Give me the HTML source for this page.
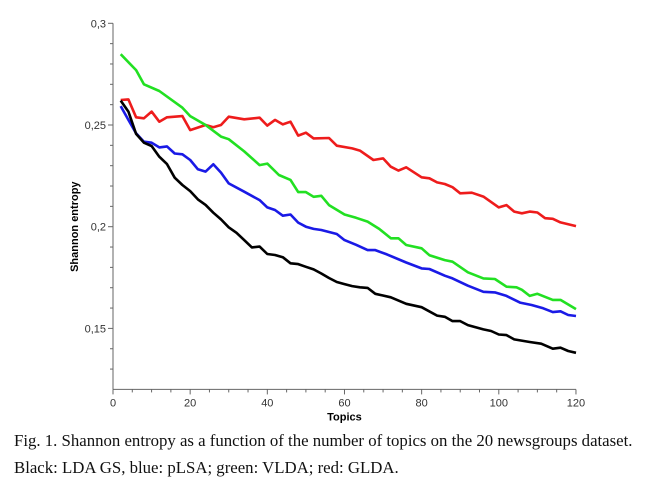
<!DOCTYPE html>
<html><head><meta charset="utf-8"><style>
html,body{margin:0;padding:0;background:#fff;width:655px;height:499px;overflow:hidden}
.cap{position:absolute;left:14px;font-family:"Liberation Serif",serif;font-size:16.8px;color:#111;white-space:nowrap}
</style></head><body>
<svg id="chart" width="655" height="430" style="position:absolute;left:0;top:0" xmlns="http://www.w3.org/2000/svg"></svg>
<div class="cap" style="top:431px">Fig. 1. Shannon entropy as a function of the number of topics on the 20 newsgroups dataset.</div>
<div class="cap" style="top:458px">Black: LDA GS, blue: pLSA; green: VLDA; red: GLDA.</div>
<script>
const xTicks=[0,20,40,60,80,100,120];
const yTicks=[0.15,0.2,0.25,0.3];
const yTickLabels=["0,15","0,2","0,25","0,3"];
const blackX=[2,4,6,8,10,12,14,16,18,20,22,24,26,28,30,32,34,36,38,40,42,44,46,48,50,52,54,56,58,60,62,64,66,68,72,76,80,84,86,88,90,92,96,98,100,102,104,108,111,114,116,118,120];
const blackY=[0.262,0.2566,0.2456,0.2413,0.2397,0.2344,0.2308,0.2241,0.2205,0.2175,0.2134,0.2107,0.2069,0.2036,0.1997,0.197,0.1934,0.1898,0.1902,0.1866,0.1861,0.185,0.182,0.1816,0.1803,0.179,0.177,0.1748,0.1728,0.1718,0.1708,0.1702,0.1699,0.167,0.1653,0.1621,0.1604,0.1563,0.1557,0.1536,0.1536,0.1516,0.1495,0.1487,0.147,0.1467,0.1446,0.1433,0.1425,0.14,0.1405,0.1389,0.138];
const blueX=[2,4,6,8,10,12,14,16,18,20,22,24,26,28,30,34,38,40,42,44,46,48,50,52,54,58,60,63,66,68,71,76,80,82,86,88,92,96,99,102,105.5,108.5,111.5,114,116,118,120];
const blueY=[0.2593,0.2525,0.2459,0.2418,0.2413,0.239,0.2395,0.236,0.2356,0.2328,0.2282,0.2271,0.2307,0.2266,0.2213,0.2172,0.2131,0.2095,0.2082,0.2054,0.206,0.202,0.2,0.1989,0.1984,0.1964,0.1934,0.1911,0.1885,0.1885,0.1864,0.1824,0.1795,0.1792,0.1759,0.1746,0.171,0.168,0.1677,0.166,0.1627,0.1615,0.1599,0.158,0.1584,0.1566,0.1561];
const greenX=[2,6,8,12,18,20,24,28,30,34,38,40,43,46,48,50,52,54,56,60,63,66,69,72,74,76,80,82,86,88,92,96,99,102,104.6,106,108,110,114,116,120];
const greenY=[0.2848,0.277,0.270,0.2667,0.2585,0.2544,0.25,0.2443,0.243,0.237,0.2303,0.231,0.2254,0.223,0.217,0.217,0.2147,0.2152,0.2106,0.206,0.2044,0.2025,0.1989,0.1943,0.1943,0.191,0.1894,0.186,0.1836,0.1828,0.1776,0.1746,0.1743,0.1705,0.1702,0.169,0.166,0.167,0.164,0.164,0.1595];
const redX=[2,4,6,8,10,12,14,18,20,24,26,28,30,34,38,40,42,44,46,48,50,52,56,58,62,64,67.5,70,72,74,76,80,82,84,86,88,90,93,96,100,102,104,106,108,110,112,114,116,120];
const redY=[0.2623,0.2626,0.2538,0.2533,0.2566,0.2516,0.2538,0.2544,0.2475,0.25,0.2489,0.25,0.2541,0.2528,0.2536,0.2497,0.2525,0.2503,0.2516,0.2448,0.2462,0.2434,0.2436,0.2398,0.2385,0.2374,0.2328,0.2336,0.2295,0.2276,0.2292,0.2243,0.2238,0.2218,0.221,0.2194,0.2164,0.2167,0.2148,0.2095,0.2106,0.2074,0.2066,0.2074,0.207,0.2042,0.2039,0.2021,0.2003];

const svg=document.getElementById('chart');
const NS='http://www.w3.org/2000/svg';
const X0=113,PX=3.858;
const sx=v=>X0+v*PX;
const sy=v=>23.3+(0.3-v)*2034;
function mk(tag,attrs){const e=document.createElementNS(NS,tag);for(const k in attrs)e.setAttribute(k,attrs[k]);svg.appendChild(e);return e;}
const yBottom=sy(0.12);
let e;
e=mk('line',{x1:X0,y1:sy(0.3),x2:X0,y2:yBottom,stroke:'#666','stroke-width':1});


e=mk('line',{x1:X0,y1:yBottom,x2:sx(120),y2:yBottom,stroke:'#666','stroke-width':1});


for(let v=0.13;v<=0.3001;v+=0.01){
  const major=yTicks.some(t=>Math.abs(t-v)<1e-6);
  e=mk('line',{x1:X0-(major?5:3),y1:sy(v),x2:X0,y2:sy(v),stroke:'#666','stroke-width':1});
  
  
}
yTicks.forEach((t,i)=>{
  e=mk('text',{x:X0-7,y:sy(t)+4,'text-anchor':'end','font-family':'Liberation Sans, sans-serif','font-size':11,fill:'#333'});
  e.textContent=yTickLabels[i];
  
  
});
for(let v=0;v<=120;v+=5){
  const major=v%20===0;
  e=mk('line',{x1:sx(v),y1:yBottom,x2:sx(v),y2:yBottom+(major?5:3),stroke:'#666','stroke-width':1});
  
  
}
xTicks.forEach(t=>{
  e=mk('text',{x:sx(t),y:yBottom+17,'text-anchor':'middle','font-family':'Liberation Sans, sans-serif','font-size':11,fill:'#333'});
  e.textContent=String(t);
  
  
});
e=mk('text',{x:sx(60),y:yBottom+31,'text-anchor':'middle','font-family':'Liberation Sans, sans-serif','font-size':11,'font-weight':'bold',fill:'#000'});
e.textContent='Topics';


e=mk('text',{x:0,y:0,'text-anchor':'middle','font-family':'Liberation Sans, sans-serif','font-size':11,'font-weight':'bold',fill:'#000',transform:'translate(78,'+sy(0.2)+') rotate(-90)'});
e.textContent='Shannon entropy';


function series(xs,ys,color,name){
  const d=xs.map((x,i)=>(i?'L':'M')+sx(x).toFixed(1)+','+sy(ys[i]).toFixed(1)).join(' ');
  const p=mk('path',{d:d,fill:'none',stroke:color,'stroke-width':2.6,'stroke-linejoin':'round'});
  
  
}
series(redX,redY,'#ee1c1c','series-glda-red');
series(greenX,greenY,'#22e022','series-vlda-green');
series(blueX,blueY,'#1a1ae6','series-plsa-blue');
series(blackX,blackY,'#000','series-lda-gs-black');
</script>
</body></html>
